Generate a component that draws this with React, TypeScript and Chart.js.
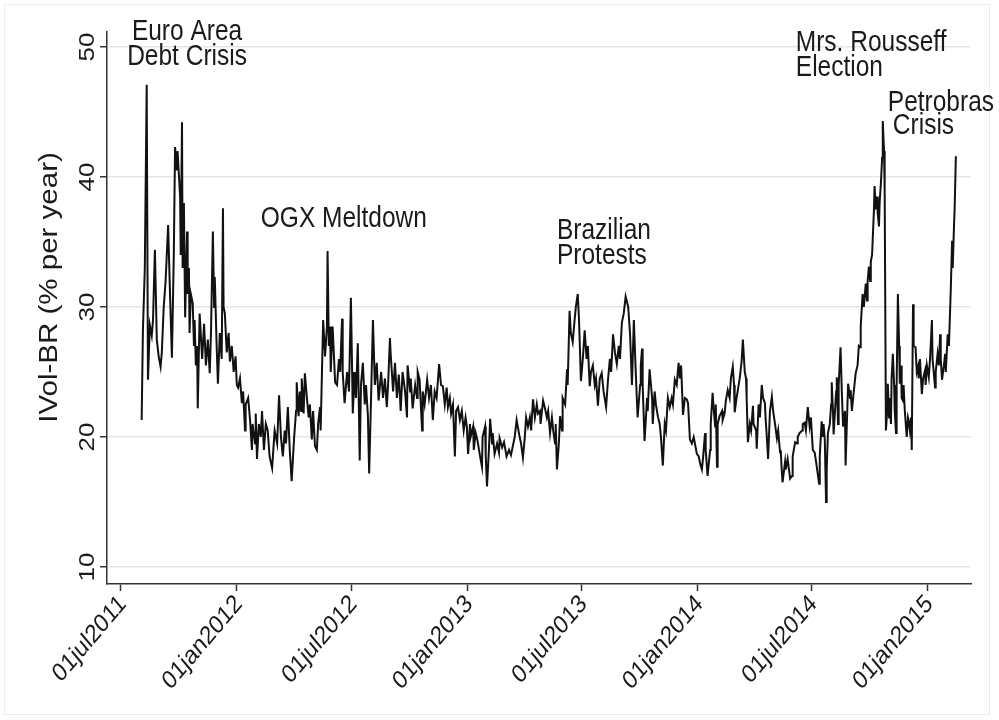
import React, { useEffect, useRef } from "react";
import { Chart, registerables } from "chart.js";

Chart.register(...registerables);

// x values are calendar days counted from 01jul2011
const TICK_DAYS = [0, 184, 366, 550, 731, 915, 1096, 1280];
const TICK_LABELS = ["01jul2011", "01jan2012", "01jul2012", "01jan2013", "01jul2013", "01jan2014", "01jul2014", "01jan2015"];
const Y_TICKS = [10, 20, 30, 40, 50];
const Y_TITLE = "IVol-BR (% per year)";
const Y_TITLE_LEVEL = 31.5;

// [day, IVol-BR]
const ivolAug2011Feb2012: [number, number][] = [
  [33,21.3],[35,28.2],[38,33],[41,47.1],[43,24.4],[46,28.6],[49,27.8],[51,29],[54,34.4],[57,27.5],[60,26.2],[63,25.4],[65,26.5],[68,30],[71,32],[75,36.3],[78,31],[81,26.1],[84,34],[86,42.3],[89,40.5],[90,42],[94,38.5],[95,34],[97,44.2],[98,33],[100,38],[102,29.2],[105,35.8],[106,31],[108,33],[109,28],[111,31],[114,30.3],[116,27],[117,29],[119,25.5],[121,27],[122,22.2],[125,29.5],[129,26],[132,28.7],[135,25.5],[138,27.5],[141,24.9],[143,28],[146,35.8],[148,30],[149,32.3],[152,27],[154,24.1],[157,28],[160,26],[162,37.6],[163,30],[165,29.5],[168,26.5],[171,28],[173,25.8],[176,27],[179,25],[182,26.2],[184,24],[186,23.8],[189,24.5],[192,22.6],[194,23.5],[197,20.5],[198,22.5],[202,23],[205,21.3],[208,19],[209,21],[213,19.5],[214,21.8],[216,18.3],[219,21],[222,20],[224,22],[227,19],[230,21],[233,20.5],[236,18.5],
];
const ivolFeb2012Sep2012: [number, number][] = [
  [240,17.6],[244,20.5],[248,19.5],[251,23.2],[254,20],[257,18.5],[260,20.5],[262,19.5],[265,22.3],[268,19],[271,16.6],[275,20],[278,22],[279,24.2],[282,21.6],[284,23.5],[286,22],[287,24.5],[290,21.8],[292,24.9],[295,23.1],[298,21.5],[300,22.5],[303,19.8],[305,22],[308,19.3],[311,19],[313,21],[316,22.3],[317,20.5],[321,29],[324,26.2],[327,28.5],[328,34.3],[330,27],[332,28.5],[333,25],[336,28.5],[340,24.2],[343,24],[346,26],[348,25],[351,29.1],[352,25],[355,22.6],[359,25],[362,23.5],[365,30.7],[367,25],[368,21.8],[371,25],[373,23],[376,27.2],[379,18.2],[381,24],[384,25.7],[387,22.5],[389,24],[392,21.6],[394,17.2],[397,23],[400,29],[403,24],[406,25.7],[409,22.8],[413,25],[416,23],[419,24.5],[422,22.3],[424,24],[427,27.6],[428,26.5],[432,23.5],[435,25.7],[438,23],[441,24.8],[444,22],[447,25],[451,23.5],
];
const ivolSep2012Apr2013: [number, number][] = [
  [454,21.5],[455,25.5],[459,23.5],[460,24.5],[463,22.2],[467,24],[470,23],[471,25],[474,24.4],[478,20.5],[479,23.5],[482,22.5],[486,24.4],[489,23],[492,24],[495,21.3],[498,23.5],[501,23],[505,25.6],[508,24],[511,23.9],[514,22.5],[517,23.8],[519,22.3],[522,23],[524,21.8],[527,22.5],[530,18.5],[532,22],[535,22.3],[538,21.3],[541,22],[544,20.5],[547,21.5],[549,20.8],[551,18.7],[554,21],[555,20],[559,20.8],[560,19],[563,20.3],[566,19.7],[570,18.5],[573,17.7],[574,20],[578,20.8],[579,18.5],[581,16.2],[584,19],[586,21.4],[589,19.5],[590,20.3],[593,18.7],[597,19.5],[600,18.8],[601,19.9],[605,19.2],[608,19.6],[611,18.8],[612,18.5],[616,19],[619,18.6],[622,19.3],[625,20],[628,21.3],[632,20.2],[635,19.5],[638,18.4],[641,20],[643,21.5],[646,20.8],[649,21.5],[651,20.5],[654,22.9],[657,21.5],[660,22.5],[662,21.8],[665,22],
];
const ivolApr2013Nov2013: [number, number][] = [
  [666,21],[670,22.8],[673,22.2],[676,21.5],[678,22],[681,20.3],[684,21.5],[686,20.5],[689,19.5],[690,21],[692,17.5],[695,19.5],[697,21.6],[700,20.5],[701,23],[705,22.5],[708,25.2],[709,24],[712,29.7],[714,28],[717,27.3],[720,29],[722,30],[725,31],[727,29],[730,24.3],[733,26],[736,28.2],[739,26],[741,27],[744,23.9],[746,25],[749,25.5],[752,24],[754,24.5],[757,22.4],[760,24.5],[763,24.9],[766,23.5],[770,22.3],[773,24.4],[776,26],[778,25],[781,27.9],[784,26.5],[787,25.6],[790,27],[792,26],[795,28.8],[798,29.5],[801,30.8],[805,30],[808,27.9],[811,24],[814,29],[817,25],[820,21.5],[824,24],[825,25.5],[827,26.8],[828,24],[831,19.7],[835,23],[836,22],[839,25.2],[843,23],[844,21],[847,23.5],[849,22.5],[852,21.6],[855,21],[857,20],[860,17.8],[863,21],[865,20.5],[868,23],[871,22.3],[874,23],[876,22.5],[879,24.4],
];
const ivolNov2013Jun2014: [number, number][] = [
  [882,24],[885,25.7],[887,24.5],[889,25.5],[892,21.7],[895,23],[898,22.9],[900,22.6],[903,19.8],[906,19.5],[909,20],[914,18.7],[917,18.5],[919,18],[922,17.5],[924,18.5],[927,20.3],[928,19],[931,17],[935,19],[936,21],[939,23.4],[941,22],[943,20.8],[944,22.5],[946,17.7],[947,21],[950,21.6],[954,22],[955,21.3],[958,21.8],[960,22.8],[963,23.6],[966,23],[968,24.5],[971,25.4],[973,24],[974,21.9],[977,23],[979,23.6],[982,24.5],[985,25.8],[987,27.5],[990,25],[992,24.5],[993,23],[995,19.6],[998,21],[1000,20.5],[1003,22.4],[1004,21],[1008,20.5],[1009,19.1],[1012,22.5],[1014,21.5],[1017,24],[1019,23],[1022,22.6],[1023,21.5],[1025,20],[1027,18.3],[1030,22],[1033,23.1],[1035,22],[1038,21],[1041,19.9],[1043,20.5],[1046,18.8],[1047,19],[1049,17.2],[1050,16.5],[1054,18.1],[1055,17.5],[1058,18.3],[1062,16.8],[1065,17],[1066,18.5],[1070,19.6],[1073,19.5],[1074,20],[1077,20.3],[1081,20.5],[1082,21],[1085,21.1],[1087,20.5],[1090,22.3],
];
const ivolJun2014Feb2015: [number, number][] = [
  [1093,20.8],[1095,21.5],[1096,20.6],[1098,19],[1101,18.8],[1104,17.8],[1108,16.4],[1109,18.5],[1112,21.2],[1114,20],[1115,21],[1117,19.8],[1119,15],[1120,17.5],[1122,20.3],[1125,21],[1127,22.5],[1128,24.2],[1130,22],[1131,20.2],[1135,23.5],[1136,24.6],[1138,21],[1139,24],[1142,26.9],[1144,23.5],[1146,20.8],[1149,22],[1150,17.8],[1152,21],[1154,24.1],[1157,23],[1158,23.6],[1160,22],[1163,23.5],[1166,24.9],[1169,25.5],[1171,27],[1173,26.9],[1174,28.5],[1177,31],[1179,30],[1182,31.8],[1184,30.5],[1185,32],[1187,33.1],[1189,32],[1190,33.5],[1192,34],[1195,37.5],[1196,39.3],[1198,37.5],[1200,38.5],[1201,37.2],[1203,36.2],[1204,38],[1206,39.5],[1208,41.5],[1209,44.3],[1211,42],[1212,39],[1214,20.5],[1216,22],[1217,24.1],[1219,21.5],[1220,23],[1222,21],[1223,24.5],[1225,26.4],[1227,24],[1228,22],[1230,20.3],[1231,24],[1233,31],[1235,27],[1236,24.1],[1238,25.5],[1239,23],[1241,22.8],[1242,24],[1244,22],[1247,20],[1249,21.5],[1250,21.3],[1252,20.5],[1254,21.5],[1255,19],[1257,30.2],[1258,27],[1261,26.9],[1263,25],[1265,25.4],[1266,24.5],[1268,26],[1271,23.3],[1273,24.5],[1276,25.1],[1277,24],[1279,25.5],[1282,24.6],[1284,26],[1287,29],[1288,26],[1292,23.8],[1293,25],[1296,26.4],[1298,25.5],[1300,27.9],[1301,26],[1303,24.4],[1306,25.5],[1308,26.4],[1309,25],[1312,27.9],[1314,27],[1315,28.5],[1317,31.5],[1319,35.1],[1320,33],[1322,36.2],[1323,37.5],[1325,41.6],
];

// event labels: text, anchor day, anchor level, alignment
const EVENT_TEXT = ["Euro Area", "Debt Crisis", "OGX Meltdown", "Brazilian", "Protests", "Mrs. Rousseff", "Election", "Petrobras", "Crisis"];
const EVENT_DAY = [105, 105, 222, 692, 692, 1071, 1071, 1217, 1225];
const EVENT_LEVEL = [51.12, 49.23, 36.77, 35.85, 33.92, 50.31, 48.38, 45.69, 43.92];
const EVENT_ALIGN: CanvasTextAlign[] = ["center", "center", "left", "left", "left", "left", "left", "left", "left"];

const FONT = '"Liberation Sans", Arial, Helvetica, sans-serif';
const TEXT_COLOR = "#1a1a1a";
const STRETCH = 1.18; // text in the reference is taller than it is wide

export default function App() {
  const canvasRef = useRef<HTMLCanvasElement | null>(null);

  useEffect(() => {
    document.body.style.margin = "0";
    const canvas = canvasRef.current;
    if (!canvas) return;

    const series = [
      ...ivolAug2011Feb2012,
      ...ivolFeb2012Sep2012,
      ...ivolSep2012Apr2013,
      ...ivolApr2013Nov2013,
      ...ivolNov2013Jun2014,
      ...ivolJun2014Feb2015,
    ].map(([d, v]) => ({ x: d, y: v }));

    const TICK_LEN = 7;

    const backgroundPlugin = {
      id: "bgFrame",
      beforeDraw(chart: any) {
        const { ctx, width, height } = chart;
        ctx.save();
        ctx.fillStyle = "#ffffff";
        ctx.fillRect(0, 0, width, height);
        ctx.strokeStyle = "#ececec";
        ctx.lineWidth = 1;
        ctx.strokeRect(4.5, 4.5, width - 14, height - 10);
        ctx.restore();
      },
    };

    const textPlugin = {
      id: "stataText",
      afterDraw(chart: any) {
        const { ctx } = chart;
        const xs = chart.scales.x;
        const ys = chart.scales.y;
        ctx.save();
        ctx.fillStyle = TEXT_COLOR;

        // event annotations
        ctx.font = `24.5px ${FONT}`;
        ctx.textBaseline = "middle";
        EVENT_TEXT.forEach((t, i) => {
          ctx.save();
          ctx.translate(xs.getPixelForValue(EVENT_DAY[i]), ys.getPixelForValue(EVENT_LEVEL[i]));
          ctx.scale(1, STRETCH);
          ctx.textAlign = EVENT_ALIGN[i];
          ctx.fillText(t, 0, 0);
          ctx.restore();
        });

        // x tick labels, rotated 45 degrees
        ctx.font = `22px ${FONT}`;
        ctx.textAlign = "right";
        ctx.textBaseline = "middle";
        TICK_DAYS.forEach((d, i) => {
          ctx.save();
          ctx.translate(xs.getPixelForValue(d) + 2, xs.top + TICK_LEN + 9);
          ctx.scale(1, STRETCH);
          ctx.rotate(-Math.PI / 4);
          ctx.fillText(TICK_LABELS[i], 0, 0);
          ctx.restore();
        });

        // y tick labels, vertical
        ctx.textAlign = "center";
        ctx.textBaseline = "alphabetic";
        Y_TICKS.forEach((v) => {
          ctx.save();
          ctx.translate(ys.right - TICK_LEN - 6.5, ys.getPixelForValue(v));
          ctx.scale(1, STRETCH);
          ctx.rotate(-Math.PI / 2);
          ctx.fillText(String(v), 0, 0);
          ctx.restore();
        });

        // y axis title
        ctx.font = `25px ${FONT}`;
        ctx.textBaseline = "middle";
        ctx.save();
        ctx.translate(ys.left + 50.5, ys.getPixelForValue(Y_TITLE_LEVEL));
        ctx.scale(1, STRETCH);
        ctx.rotate(-Math.PI / 2);
        ctx.fillText(Y_TITLE, 0, 0);
        ctx.restore();

        ctx.restore();
      },
    };

    const chart = new Chart(canvas, {
      type: "line",
      data: {
        datasets: [
          {
            data: series,
            borderColor: "#111111",
            borderWidth: 2,
            pointRadius: 0,
            tension: 0,
            fill: false,
          },
        ],
      },
      options: {
        animation: false,
        responsive: false,
        devicePixelRatio: 1,
        layout: { padding: { left: 0, right: 28, top: 32, bottom: 0 } },
        plugins: {
          legend: { display: false },
          tooltip: { enabled: false },
        },
        scales: {
          x: {
            type: "linear",
            min: -22,
            max: 1349,
            afterBuildTicks: (scale: any) => {
              scale.ticks = TICK_DAYS.map((v) => ({ value: v }));
            },
            afterFit: (scale: any) => {
              scale.height = 136;
            },
            ticks: {
              autoSkip: false,
              minRotation: 45,
              maxRotation: 45,
              color: "rgba(0,0,0,0)",
              font: { family: FONT, size: 22 },
              callback: (v: any) => {
                const i = TICK_DAYS.indexOf(Number(v));
                return i >= 0 ? TICK_LABELS[i] : "";
              },
            },
            grid: {
              drawOnChartArea: false,
              drawTicks: true,
              tickLength: TICK_LEN,
              tickColor: "#333333",
              tickWidth: 1.5,
            },
            border: { display: true, color: "#333333", width: 1.5 },
          },
          y: {
            type: "linear",
            min: 8.69,
            max: 51.15,
            afterBuildTicks: (scale: any) => {
              scale.ticks = Y_TICKS.map((v) => ({ value: v }));
            },
            afterFit: (scale: any) => {
              scale.width = 107;
            },
            ticks: {
              color: "rgba(0,0,0,0)",
              font: { family: FONT, size: 22 },
              callback: (v: any) => String(v),
            },
            grid: {
              color: "#e6e6e6",
              lineWidth: 1.5,
              drawTicks: true,
              tickLength: TICK_LEN,
              tickColor: "#333333",
              tickWidth: 1.5,
            },
            border: { display: true, color: "#333333", width: 1.5 },
          },
        },
      },
      plugins: [backgroundPlugin, textPlugin],
    });

    return () => chart.destroy();
  }, []);

  return (
    <div style={{ width: 999, height: 720, position: "relative" }}>
      <canvas ref={canvasRef} width={999} height={720} style={{ width: 999, height: 720, display: "block" }} />
    </div>
  );
}
